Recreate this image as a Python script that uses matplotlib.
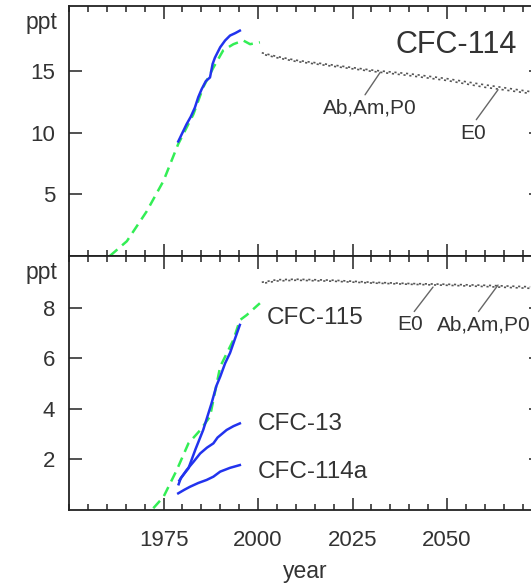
import matplotlib
matplotlib.use("Agg")
import matplotlib.pyplot as plt
from matplotlib.ticker import MultipleLocator

plt.rcParams["font.family"] = ["Liberation Sans", "DejaVu Sans"]

# CFC-114 (top panel)
yr_114_model = [1960.8, 1965.3, 1970.5, 1975.0, 1978.9, 1982.9, 1985.5, 1988.2, 1990.8, 1993.5, 1996.1, 1997.9, 2000.5]
val_114_model = [0.0, 1.2, 3.6, 6.1, 9.1, 11.5, 13.7, 15.3, 16.7, 17.2, 17.5, 17.2, 17.35]
yr_114_obs = [1978.9, 1980.0, 1981.1, 1982.2, 1983.3, 1984.2, 1985.1, 1986.2, 1987.3, 1988.0, 1988.6, 1990.0, 1991.3, 1992.6, 1994.0, 1995.2]
val_114_obs = [9.3, 10.0, 10.7, 11.3, 12.05, 12.9, 13.55, 14.2, 14.5, 15.6, 16.1, 16.95, 17.5, 17.9, 18.1, 18.3]
yr_proj = [2001, 2005, 2010, 2020, 2030, 2040, 2050, 2060, 2072]
val_114_ab = [16.5, 16.2, 15.9, 15.5, 15.1, 14.8, 14.4, 13.9, 13.35]
val_114_e0 = [16.4, 16.1, 15.8, 15.4, 15.0, 14.65, 14.25, 13.7, 13.2]

# CFC-115, CFC-13, CFC-114a (bottom panel)
yr_115_model = [1972.3, 1975.0, 1978.5, 1981.6, 1984.7, 1987.3, 1990.0, 1993.5, 1995.2, 1997.0, 2000.5]
val_115_model = [0.05, 0.5, 1.56, 2.62, 3.14, 3.68, 5.66, 6.72, 7.5, 7.7, 8.17]
yr_115_obs = [1979.0, 1979.6, 1981.6, 1983.5, 1985.5, 1987.7, 1989.0, 1990.0, 1991.3, 1992.6, 1994.0, 1995.2]
val_115_obs = [1.0, 1.25, 1.63, 2.4, 3.15, 4.2, 4.9, 5.26, 5.79, 6.2, 6.8, 7.31]
val_115_ab = [9.0, 9.1, 9.12, 9.08, 9.0, 8.95, 8.92, 8.88, 8.82]
val_115_e0 = [8.95, 9.05, 9.08, 9.04, 8.97, 8.92, 8.88, 8.83, 8.76]
yr_13_obs = [1979.2, 1981.1, 1983.0, 1984.7, 1986.5, 1988.2, 1989.3, 1991.7, 1993.5, 1995.2]
val_13_obs = [1.15, 1.56, 1.9, 2.22, 2.45, 2.62, 2.85, 3.15, 3.3, 3.41]
yr_114a_obs = [1978.9, 1980.5, 1982.0, 1984.2, 1986.4, 1988.2, 1990.0, 1992.6, 1995.2]
val_114a_obs = [0.64, 0.78, 0.9, 1.05, 1.17, 1.3, 1.5, 1.65, 1.76]

year_labels = [1975, 2000, 2025, 2050]

GREEN = "#33ee55"
BLUE = "#2233ee"
DOT = "#555555"
TXT = "#333333"

fig = plt.figure(figsize=(5.31, 5.85), dpi=100)
ax1 = fig.add_axes([69 / 531, 1 - 256 / 585, 472.5 / 531, 250 / 585])
ax2 = fig.add_axes([69 / 531, 1 - 509.5 / 585, 472.5 / 531, 253.5 / 585], sharex=ax1)

dash = (0, (4, 2.5))
dots = (0, (1.3, 2.2))

ax1.plot(yr_114_model, val_114_model, color=GREEN, lw=1.8, ls=dash)
ax1.plot(yr_114_obs, val_114_obs, color=BLUE, lw=1.8)
ax1.plot(yr_proj, val_114_ab, color=DOT, lw=1.2, ls=dots)
ax1.plot(yr_proj, val_114_e0, color=DOT, lw=1.2, ls=(1.5, (1.3, 2.2)))

ax2.plot(yr_115_model, val_115_model, color=GREEN, lw=1.8, ls=dash)
ax2.plot(yr_115_obs, val_115_obs, color=BLUE, lw=1.8)
ax2.plot(yr_13_obs, val_13_obs, color=BLUE, lw=1.8)
ax2.plot(yr_114a_obs, val_114a_obs, color=BLUE, lw=1.8)
ax2.plot(yr_proj, val_115_ab, color=DOT, lw=1.2, ls=dots)
ax2.plot(yr_proj, val_115_e0, color=DOT, lw=1.2, ls=(1.5, (1.3, 2.2)))

ax1.set_xlim(1950, 2075)
ax1.set_ylim(0, 20.3)
ax2.set_ylim(0, 10.04)
ax1.set_yticks([5, 10, 15])
ax2.set_yticks([2, 4, 6, 8])
ax2.set_xticks(year_labels)
ax2.xaxis.set_minor_locator(MultipleLocator(5))

for ax in (ax1, ax2):
    ax.tick_params(which="both", direction="in", top=True, right=True,
                   colors="#222222", labelcolor=TXT, labelsize=16)
    ax.tick_params(which="major", length=9, width=1.1)
    ax.tick_params(which="minor", length=4.5, width=1.1)
    ax.tick_params(axis="y", pad=10)
    for s in ax.spines.values():
        s.set_linewidth(1.3)
        s.set_color("#222222")
    ax.text(-0.025, 0.936, "ppt", transform=ax.transAxes, ha="right",
            va="center", fontsize=16.5, color=TXT)
ax1.tick_params(axis="x", labelbottom=False)
ax2.tick_params(axis="x", pad=15)
ax2.set_xlabel("year", fontsize=16.5, color=TXT, labelpad=6)

ax1.text(2052.4, 17.1, "CFC-114", fontsize=22, color=TXT, ha="center", va="center")
ax2.text(2002.4, 7.58, "CFC-115", fontsize=17.5, color=TXT, ha="left", va="center")
ax2.text(2000, 3.39, "CFC-13", fontsize=17.5, color=TXT, ha="left", va="center")
ax2.text(2000, 1.49, "CFC-114a", fontsize=17.5, color=TXT, ha="left", va="center")

lead = dict(arrowstyle="-", color="#666666", lw=1, shrinkA=1, shrinkB=0)
ax1.annotate("Ab,Am,P0", xy=(2032.3, 14.9), xytext=(2029.6, 12.0), fontsize=15,
             color=TXT, ha="center", va="center", arrowprops=dict(lead, relpos=(0.42, 1)))
ax1.annotate("E0", xy=(2063.5, 13.5), xytext=(2057.0, 9.98), fontsize=15,
             color=TXT, ha="center", va="center", arrowprops=dict(lead, relpos=(0.5, 1)))
ax2.annotate("E0", xy=(2046.3, 8.81), xytext=(2040.2, 7.31), fontsize=15,
             color=TXT, ha="center", va="center", arrowprops=dict(lead, relpos=(0.55, 1)))
ax2.annotate("Ab,Am,P0", xy=(2063.5, 8.89), xytext=(2047.4, 7.31), fontsize=15,
             color=TXT, ha="left", va="center", arrowprops=dict(lead, relpos=(0.41, 1)))

fig.savefig("out.png", dpi=100)
